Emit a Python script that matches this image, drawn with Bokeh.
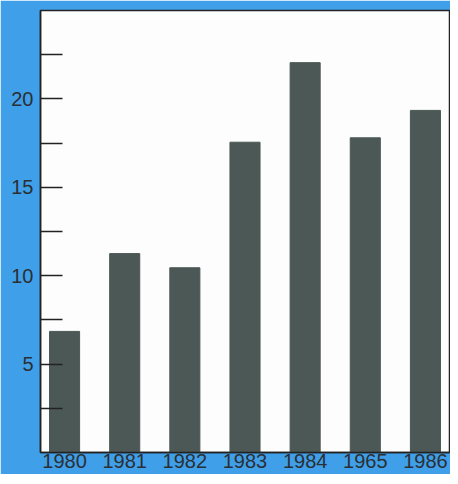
from bokeh.plotting import figure
from bokeh.models import FactorRange, Range1d, FixedTicker
from bokeh.embed import file_html
from bokeh.resources import INLINE

years = ["1980", "1981", "1982", "1983", "1984", "1965", "1986"]
values = [6.85, 11.25, 10.45, 17.55, 22.05, 17.8, 19.35]
y_ticks = [2.5, 5, 7.5, 10, 12.5, 15, 17.5, 20, 22.5]
y_labels = {5: "5", 10: "10", 15: "15", 20: "20"}

BLUE = "#3f9fe8"
BAR = "#4c5855"
TEXT = "#2b2f33"

p = figure(
    x_range=FactorRange(factors=years, range_padding=-0.1, range_padding_units="absolute"),
    y_range=Range1d(0, 25),
    width=450, height=476,
    output_backend="svg", toolbar_location=None,
    min_border_left=40, min_border_top=10, min_border_right=1, min_border_bottom=22,
)
p.frame_width = 409
p.frame_height = 442

p.vbar(x=years, top=values, width=0.5, color=BAR)

p.border_fill_color = BLUE
p.background_fill_color = "#fdfdfd"
p.outline_line_color = "#222222"
p.outline_line_width = 1.5
p.grid.visible = False

ya = p.yaxis[0]
ya.ticker = FixedTicker(ticks=y_ticks)
ya.major_label_overrides = {t: y_labels.get(t, "") for t in y_ticks}
ya.major_tick_in = 22
ya.major_tick_out = 0
ya.minor_tick_line_color = None
ya.major_tick_line_width = 1.5
ya.major_tick_line_color = "#222222"
ya.axis_line_color = "#222222"
ya.axis_line_width = 1.5
ya.major_label_text_font = "Liberation Sans"
ya.major_label_text_font_size = "20px"
ya.major_label_text_color = TEXT
ya.major_label_standoff = 7

xa = p.xaxis[0]
xa.major_tick_line_color = None
xa.minor_tick_line_color = None
xa.major_tick_in = 0
xa.major_tick_out = 0
xa.axis_line_color = "#222222"
xa.axis_line_width = 1.5
xa.major_label_text_font = "Liberation Sans"
xa.major_label_text_font_size = "20px"
xa.major_label_text_color = TEXT
xa.major_label_standoff = 1

open("out.html", "w").write(file_html(p, INLINE))
